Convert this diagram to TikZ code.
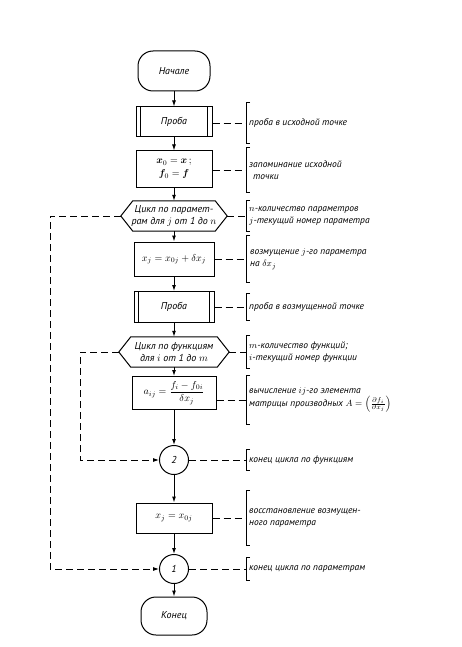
\documentclass[tikz,border=0pt]{standalone}
\usepackage{fontspec}
\usepackage{amsmath}
\usepackage{bm}
\setmainfont{PT Sans}
\usetikzlibrary{arrows.meta,calc}
\begin{document}
\begin{tikzpicture}[x=1pt,y=-1pt,
 every node/.style={font=\fontsize{10}{12}\selectfont\itshape},
 box/.style={draw,line width=1pt,minimum width=76pt,minimum height=30pt,align=center,inner sep=2pt},
 term/.style={draw,line width=1pt,rounded corners=15pt,minimum width=72pt,minimum height=40pt},
 conn/.style={draw,circle,line width=1pt,minimum size=29pt,inner sep=0pt},
 hexa/.style={minimum width=106pt,minimum height=30pt,align=center,inner sep=0pt},
 flow/.style={line width=1pt,-{Latex[length=6pt,width=4pt]}},
 dashln/.style={line width=0.8pt,dash pattern=on 7pt off 4pt},
 loopln/.style={dashln,-{Latex[length=6pt,width=4pt]}},
 brk/.style={minimum width=4pt,inner sep=0pt,anchor=west},
 note/.style={anchor=west,align=left,inner sep=0pt,font=\fontsize{9.5}{12.5}\selectfont\itshape}
]
\useasboundingbox (0,0) rectangle (461,647);
% flow nodes
\node[term] (start) at (174,71) {Начале};
\node[box] (p1) at (174,122) {Проба};
\node[box,minimum height=36pt] (init) at (174,169) {$\bm{x}_0=\bm{x}\,;$\\[1pt]$\bm{f}_0=\bm{f}$};
\node[hexa] (h1) at (174,216) {Цикл по парамет-\\рам для $j$ от 1 до $n$};
\node[box,minimum width=80pt,minimum height=34pt] (xj) at (174,259) {$x_j=x_{0j}+\delta x_j$};
\node[box,minimum width=80pt,minimum height=31pt] (p2) at (174,307) {Проба};
\node[hexa,minimum width=110pt] (h2) at (174,352) {Цикл по функциям\\для $i$ от 1 до $m$};
\node[box,minimum width=84pt,minimum height=33pt] (aij) at (174,393) {$a_{ij}=\dfrac{f_i-f_{0i}}{\delta x_j}$};
\node[conn] (c2) at (174,460) {2};
\node[box,minimum width=76pt] (xr) at (174,518) {$x_j=x_{0j}$};
\node[conn] (c1) at (174,569) {1};
\node[term,minimum width=66pt,minimum height=38pt] (end) at (174,616) {Конец};
% double sides of the predefined process boxes
\foreach \p in {p1,p2}{
  \draw[line width=1pt] ([xshift=5pt]\p.north west) -- ([xshift=5pt]\p.south west);
  \draw[line width=1pt] ([xshift=-5pt]\p.north east) -- ([xshift=-5pt]\p.south east);
}
% hexagon outlines
\foreach \h in {h1,h2}{
  \draw[line width=1pt] (\h.west) -- ([xshift=12pt]\h.north west) -- ([xshift=-12pt]\h.north east)
    -- (\h.east) -- ([xshift=-12pt]\h.south east) -- ([xshift=12pt]\h.south west) -- cycle;
}
% flow arrows
\draw[flow] (start) -- (p1);
\draw[flow] (p1) -- (init);
\draw[flow] (init) -- (h1);
\draw[flow] (h1) -- (xj);
\draw[flow] (xj) -- (p2);
\draw[flow] (p2) -- (h2);
\draw[flow] (h2) -- (aij);
\draw[flow] (aij) -- (c2);
\draw[flow] (c2) -- (xr);
\draw[flow] (xr) -- (c1);
\draw[flow] (c1) -- (end);
% loops
\coordinate (L1) at (50,0);
\coordinate (L2) at (80,0);
\draw[loopln] (h1.west) -- (h1.west -| L1) |- (c1.west);
\draw[loopln] (h2.west) -- (h2.west -| L2) |- (c2.west);
% annotation brackets
\node[brk,minimum height=40pt] (b1) at (246,123) {};
\node[brk,minimum height=44pt] (b2) at (246,170) {};
\node[brk,minimum height=30pt] (b3) at (246,216) {};
\node[brk,minimum height=47pt] (b4) at (246,259) {};
\node[brk,minimum height=26pt] (b5) at (246,307) {};
\node[brk,minimum height=32pt] (b6) at (246,352) {};
\node[brk,minimum height=48pt] (b7) at (246,400) {};
\node[brk,minimum height=20pt] (b8) at (246,460) {};
\node[brk,minimum height=55pt] (b9) at (246,518) {};
\node[brk,minimum height=22pt] (b10) at (246,569) {};
\foreach \b in {b1,b2,b3,b4,b5,b6,b7,b8,b9,b10}{
  \draw[line width=0.8pt] ([xshift=4pt]\b.north west) -- (\b.north west) -- (\b.south west) -- ([xshift=4pt]\b.south west);
}
% notes
\node[note] (t1) at ([xshift=3pt]b1.west) {проба в исходной точке};
\node[note] (t2) at ([xshift=3pt]b2.west) {запоминание исходной\\\hspace*{4pt}точки};
\node[note] (t3) at ([xshift=3pt]b3.west) {$n$-количество параметров\\$j$-текущий номер параметра};
\node[note] (t4) at ([xshift=4pt]b4.west) {возмущение $j$-го параметра\\на $\delta x_j$};
\node[note] (t5) at ([xshift=3pt]b5.west) {проба в возмущенной точке};
\node[note] (t6) at ([xshift=3pt]b6.west) {$m$-количество функций;\\$i$-текущий номер функции};
\node[note] (t7) at ([xshift=3pt]b7.west) {вычисление $ij$-го элемента\\матрицы производных $A=\left(\frac{\partial f_i}{\partial x_j}\right)$};
\node[note] (t8) at ([xshift=3pt]b8.west) {конец цикла по функциям};
\node[note] (t9) at ([xshift=3pt]b9.west) {восстановление возмущен-\\ного параметра};
\node[note] (t10) at ([xshift=3pt]b10.west) {конец цикла по параметрам};
% dashed leaders
\draw[dashln] (b1.west -| p1.east) -- (b1.west);
\draw[dashln] (b2.west -| init.east) -- (b2.west);
\draw[dashln] (h1.east) -- (b3.west);
\draw[dashln] (b4.west -| xj.east) -- (b4.west);
\draw[dashln] (b5.west -| p2.east) -- (b5.west);
\draw[dashln] (h2.east) -- (b6.west);
\draw[dashln] (b7.west -| aij.east) -- (b7.west);
\draw[dashln] (c2.east) -- (b8.west);
\draw[dashln] (b9.west -| xr.east) -- (b9.west);
\draw[dashln] (c1.east) -- (b10.west);
\end{tikzpicture}
\end{document}
